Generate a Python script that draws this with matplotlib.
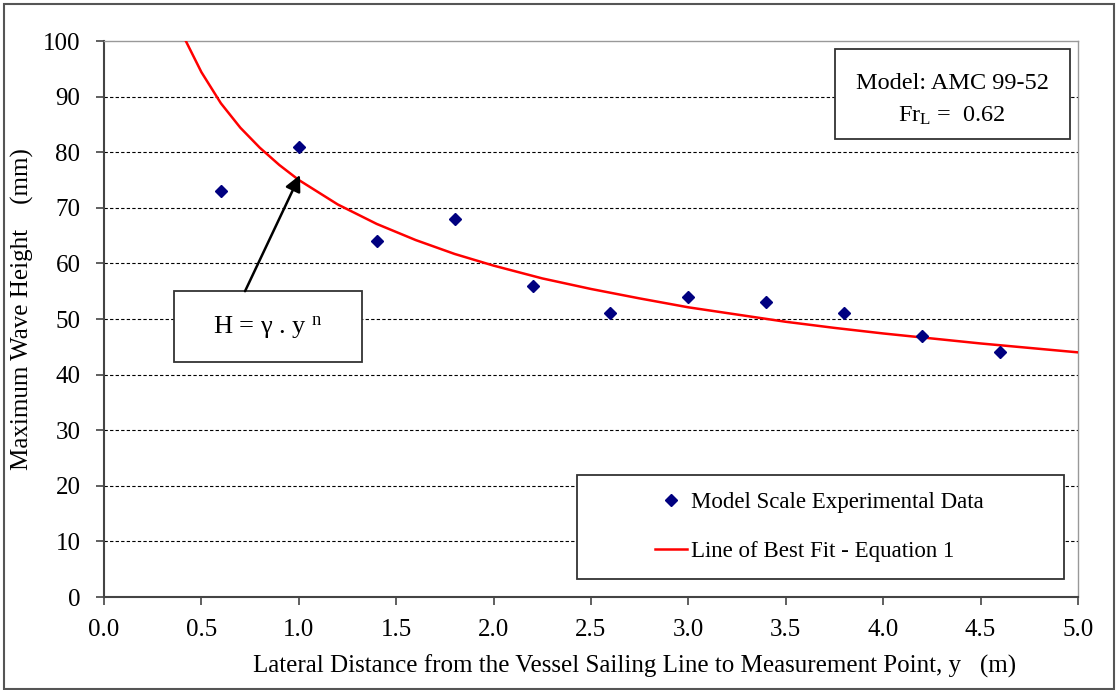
import matplotlib
matplotlib.use("Agg")
import matplotlib.pyplot as plt
from matplotlib.patches import Rectangle

# ---- data ----
exp_y = [0.6, 1.0, 1.4, 1.8, 2.2, 2.6, 3.0, 3.4, 3.8, 4.2, 4.6]
exp_h = [73, 81, 64, 68, 56, 51, 54, 53, 51, 47, 44]

fit_y = [0.42, 0.5, 0.6, 0.7, 0.8, 0.9, 1.0, 1.2, 1.4, 1.6, 1.8, 2.0, 2.25,
         2.5, 2.75, 3.0, 3.25, 3.5, 3.75, 4.0, 4.25, 4.5, 4.75, 5.0]
fit_h = [100.0, 94.4, 88.8, 84.4, 80.8, 77.7, 75.0, 70.6, 67.1, 64.2, 61.7,
         59.6, 57.3, 55.4, 53.7, 52.1, 50.8, 49.5, 48.4, 47.4, 46.5, 45.6,
         44.8, 44.0]

x_ticks = [0.0, 0.5, 1.0, 1.5, 2.0, 2.5, 3.0, 3.5, 4.0, 4.5, 5.0]
y_ticks = [0, 10, 20, 30, 40, 50, 60, 70, 80, 90, 100]

plt.rcParams['font.family'] = ['Liberation Serif', 'DejaVu Serif']
plt.rcParams['mathtext.fontset'] = 'custom'
plt.rcParams['mathtext.rm'] = 'Liberation Serif'
plt.rcParams['mathtext.it'] = 'Liberation Serif:italic'

W, H = 1118, 690
fig = plt.figure(figsize=(W / 100, H / 100), dpi=100)
ax = fig.add_axes([104 / W, 1 - 597 / H, (1078 - 104) / W, (597 - 41) / H])

# outer border
fig.add_artist(Rectangle((4 / W, 1 - 689 / H), (1114 - 4) / W, (689 - 4) / H,
                         transform=fig.transFigure, fill=False,
                         edgecolor='#555555', linewidth=1.5))

ax.set_xlim(0, 5)
ax.set_ylim(0, 100)
ax.set_xticks(x_ticks)
ax.set_xticklabels([f"{v:.1f}" for v in x_ticks])
ax.set_yticks(y_ticks)
ax.set_yticklabels([str(v) for v in y_ticks])

for v in y_ticks[1:-1]:
    ax.axhline(v, color='black', linestyle=(0, (3, 2)), linewidth=0.8, zorder=1)

for s in ['left', 'bottom']:
    ax.spines[s].set_color('#444444')
    ax.spines[s].set_linewidth(1.5)
for s in ['top', 'right']:
    ax.spines[s].set_color('#999999')
    ax.spines[s].set_linewidth(1.0)

ax.tick_params(axis='both', direction='out', length=6, width=1.2,
               color='#444444', labelsize=18)
ax.tick_params(axis='x', pad=10)
ax.tick_params(axis='y', pad=11)

fit_line, = ax.plot(fit_y, fit_h, color='#ff0000', linewidth=1.8, zorder=3)
pts, = ax.plot(exp_y, exp_h, linestyle='none', marker='D', markersize=6.5,
               color='#000080', zorder=4)

xl = ax.set_xlabel("Lateral Distance from the Vessel Sailing Line to Measurement Point, y   (m)",
                   fontsize=18)
ax.xaxis.set_label_coords((635 - 104) / 974, (597 - 666) / 556)
xl.set_verticalalignment('center')
yl = ax.set_ylabel("Maximum Wave Height    (mm)", fontsize=18)
ax.yaxis.set_label_coords((22 - 104) / 974, (597 - 309) / 556)
yl.set_verticalalignment('center')

# model text box
ax.add_patch(Rectangle((3.75, 82.4), 1.21, 16.2, facecolor='white',
                       edgecolor='#333333', linewidth=1.3, zorder=5, clip_on=False))
ax.text(4.355, 92.4, "Model: AMC 99-52", ha='center', va='center', fontsize=17.5, zorder=6)
ax.text(4.355, 86.6, "Fr$_{\\mathrm{L}}$ =  0.62", ha='center', va='center', fontsize=17.5, zorder=6)

# equation box with arrow
ax.add_patch(Rectangle((0.36, 42.3), 0.964, 12.7, facecolor='white',
                       edgecolor='#333333', linewidth=1.3, zorder=5, clip_on=False))
ax.text(0.842, 48.5, "H = γ . y $^{\\mathrm{n}}$", ha='center', va='center', fontsize=19, zorder=6)
ax.annotate("", xy=(1.006, 75.9), xytext=(0.724, 55.0),
            arrowprops=dict(arrowstyle='-|>', color='black', lw=1.8,
                            mutation_scale=24, shrinkA=0, shrinkB=0), zorder=6)

# legend
ax.add_patch(Rectangle((2.428, 3.2), 2.5, 18.7, facecolor='white',
                       edgecolor='#333333', linewidth=1.3, zorder=5, clip_on=False))
leg = ax.legend([pts, fit_line],
                ["Model Scale Experimental Data", "Line of Best Fit - Equation 1"],
                loc='center left', bbox_to_anchor=(0.554, 0.126), frameon=False,
                fontsize=16.5, handlelength=1.4, handletextpad=0.15,
                labelspacing=1.2, borderpad=0)
leg.set_zorder(7)

fig.savefig("out.png", dpi=100)
